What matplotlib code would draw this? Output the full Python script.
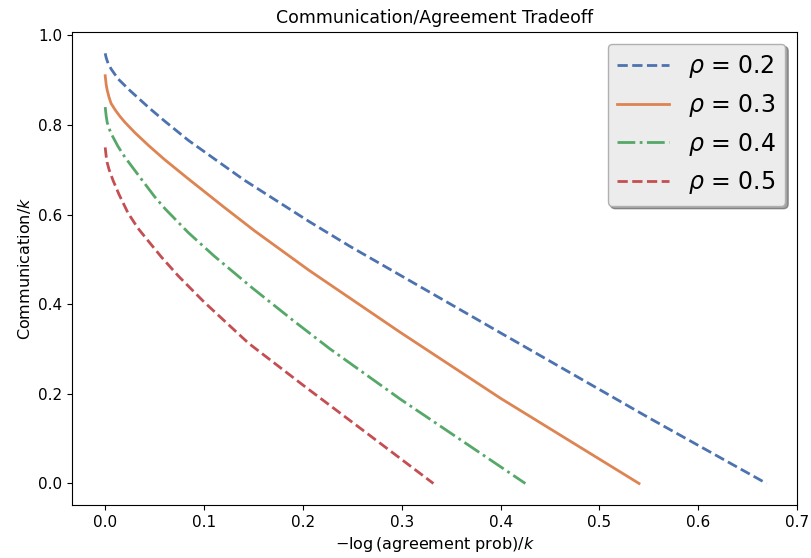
import matplotlib
matplotlib.use("Agg")
import matplotlib.pyplot as plt

rho_labels = [r"$\rho$ = 0.2", r"$\rho$ = 0.3", r"$\rho$ = 0.4", r"$\rho$ = 0.5"]

x_02 = [0.0, 0.001, 0.003, 0.006, 0.013, 0.025, 0.044, 0.06, 0.084, 0.14, 0.206, 0.247, 0.40, 0.552, 0.669]
y_02 = [0.96, 0.95, 0.937, 0.925, 0.903, 0.877, 0.839, 0.809, 0.766, 0.678, 0.585, 0.530, 0.336, 0.144, 0.0]

x_03 = [0.0, 0.001, 0.002, 0.004, 0.006, 0.010, 0.015, 0.020, 0.03, 0.044, 0.06, 0.084, 0.12, 0.151, 0.206, 0.298, 0.40, 0.54]
y_03 = [0.91, 0.89, 0.878, 0.861, 0.848, 0.834, 0.819, 0.806, 0.783, 0.754, 0.723, 0.680, 0.617, 0.564, 0.476, 0.338, 0.190, 0.0]

x_04 = [0.0, 0.001, 0.002, 0.004, 0.006, 0.013, 0.02, 0.037, 0.05, 0.061, 0.084, 0.11, 0.149, 0.19, 0.227, 0.298, 0.425]
y_04 = [0.84, 0.82, 0.806, 0.792, 0.781, 0.752, 0.728, 0.678, 0.640, 0.612, 0.56, 0.508, 0.436, 0.364, 0.301, 0.189, 0.0]

x_05 = [0.0, 0.001, 0.002, 0.004, 0.008, 0.014, 0.023, 0.033, 0.044, 0.057, 0.074, 0.10, 0.145, 0.201, 0.26, 0.332]
y_05 = [0.75, 0.73, 0.716, 0.70, 0.676, 0.645, 0.604, 0.57, 0.540, 0.505, 0.463, 0.405, 0.313, 0.218, 0.12, 0.0]

colors = ["#4C72B0", "#DD8452", "#55A868", "#C44E52"]
styles = ["--", "-", "-.", "--"]

fig = plt.figure(figsize=(8.11, 5.58), dpi=100)
ax = fig.add_axes([0.089, 0.095, 0.894, 0.848])

for xs, ys, c, ls, lab in zip([x_02, x_03, x_04, x_05], [y_02, y_03, y_04, y_05],
                              colors, styles, rho_labels):
    ax.plot(xs, ys, color=c, linestyle=ls, linewidth=2, label=lab)

ax.set_title("Communication/Agreement Tradeoff", fontsize=12.5)
ax.set_xlabel(r"$-\log$(agreement prob)/$k$", fontsize=11.5)
ax.set_ylabel(r"Communication/$k$", fontsize=11.5)
ax.tick_params(labelsize=11)
ax.set_xticks([0.0, 0.1, 0.2, 0.3, 0.4, 0.5, 0.6, 0.7])
ax.set_yticks([0.0, 0.2, 0.4, 0.6, 0.8, 1.0])
ax.set_xlim(-0.0334, 0.7)

leg = ax.legend(loc="upper right", fontsize=17, shadow=True, fancybox=True,
                facecolor="#ececec", edgecolor="#b0b0b0", framealpha=1.0,
                handlelength=2.2)

fig.savefig("out.png", dpi=100)
